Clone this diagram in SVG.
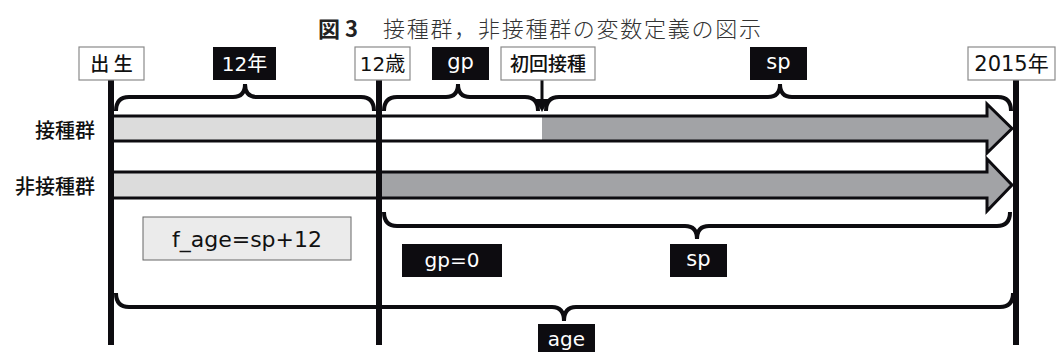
<svg xmlns="http://www.w3.org/2000/svg" width="1056" height="352" viewBox="0 0 1056 352">
<style>
.wbox{fill:#fff;stroke:#8a8a8a;stroke-width:1.2}
.bbox{fill:#0d0c10}
.lbl{font-family:"DejaVu Sans","Noto Sans CJK JP",sans-serif;font-size:20px;text-anchor:middle}
.jp{font-family:"Noto Sans CJK JP",sans-serif;font-weight:500;font-size:19px;text-anchor:middle;fill:#111}
.wt{fill:#fff}
.dk{fill:#111}
.brace{fill:none;stroke:#0d0c10;stroke-width:4;stroke-linecap:butt}
.vline{stroke:#0d0c10;stroke-width:6}
.bar{fill:none;stroke:#0d0c10;stroke-width:3;stroke-linejoin:miter}
.row{font-family:"Noto Sans CJK JP",sans-serif;font-weight:500;font-size:20px;text-anchor:end;fill:#111}
</style>
<rect width="1056" height="352" fill="#fff"/>
<g id="title">
<text x="318" y="37" font-family="Noto Sans CJK JP,sans-serif" font-weight="700" font-size="22" fill="#222">図 3</text>
<text x="383" y="37" font-family="Noto Sans CJK JP,serif" font-weight="300" font-size="22" fill="#333" textLength="378" lengthAdjust="spacing">接種群，非接種群の変数定義の図示</text>
</g>
<g id="bars">
<path d="M111,116 L987,116 L987,104 L1012,128.5 L987,153 L987,141 L111,141 Z" fill="#a2a3a6"/>
<rect x="111" y="116" width="268" height="25" fill="#dcdcdc"/>
<rect x="379" y="116" width="163" height="25" fill="#fff"/>
<path class="bar" d="M111,116 L987,116 L987,104 L1012,128.5 L987,153 L987,141 L111,141"/>
<path d="M111,172 L987,172 L987,159 L1012,185 L987,211 L987,198 L111,198 Z" fill="#a2a3a6"/>
<rect x="111" y="172" width="268" height="26" fill="#dcdcdc"/>
<path class="bar" d="M111,172 L987,172 L987,159 L1012,185 L987,211 L987,198 L111,198"/>
</g>
<g id="row-labels">
<text class="row" x="95" y="138">接種群</text>
<text class="row" x="95" y="194">非接種群</text>
</g>
<g id="connectors">
<line class="vline" x1="111" y1="79" x2="111" y2="345"/>
<line class="vline" x1="379" y1="79" x2="379" y2="345"/>
<line class="vline" x1="1016" y1="79" x2="1016" y2="345"/>
<path class="brace" d="M116,111 Q116,97 129,97 H233 Q245,97 245,84 Q245,97 257,97 H361 Q374,97 374,111"/>
<path class="brace" d="M384,111 Q384,97 397,97 H446 Q458,97 458,84 Q458,97 470,97 H525 Q538,97 538,111"/>
<path class="brace" d="M546,111 Q546,97 559,97 H768 Q780,97 780,84 Q780,97 792,97 H998 Q1011,97 1011,111"/>
<path class="brace" d="M384,212 Q384,226 397,226 H685 Q697,226 697,239 Q697,226 709,226 H997 Q1010,226 1010,212"/>
<path class="brace" d="M116,293 Q116,307 129,307 H552 Q564,307 564,321 Q564,307 576,307 H1000 Q1013,307 1013,293"/>
<line x1="542" y1="80" x2="542" y2="102" stroke="#0d0c10" stroke-width="3"/>
<path d="M535,99 L549,99 L542,112 Z" fill="#0d0c10"/>
</g>
<g id="n-birth"><rect class="wbox" x="79" y="47" width="65" height="33"/><text class="jp" x="111.5" y="70.5">出 生</text></g>
<g id="n-12y"><rect class="bbox" x="213" y="47" width="63" height="33"/><text class="lbl wt" x="244.5" y="71">12年</text></g>
<g id="n-12age"><rect class="wbox" x="355" y="47" width="55" height="33"/><text class="lbl dk" x="382.5" y="71">12歳</text></g>
<g id="n-gp"><rect class="bbox" x="432" y="47" width="57" height="33"/><text class="lbl wt" x="460.5" y="69" style="font-size:21px">gp</text></g>
<g id="n-first"><rect class="wbox" x="501" y="47" width="94" height="33"/><text class="jp" x="548" y="70.5">初回接種</text></g>
<g id="n-sp-top"><rect class="bbox" x="750" y="47" width="57" height="33"/><text class="lbl wt" x="778.5" y="69" style="font-size:21px">sp</text></g>
<g id="n-2015"><rect class="wbox" x="968" y="47" width="87" height="33"/><text class="lbl dk" x="1011.5" y="71" style="font-size:21px">2015年</text></g>
<g id="n-fage"><rect x="143" y="217" width="208" height="43" fill="#ebebeb" stroke="#666" stroke-width="1"/><text class="lbl dk" x="247" y="247" style="font-size:22px">f_age=sp+12</text></g>
<g id="n-gp0"><rect class="bbox" x="402" y="244" width="100" height="33"/><text class="lbl wt" x="452" y="267">gp=0</text></g>
<g id="n-sp-bot"><rect class="bbox" x="670" y="244" width="57" height="33"/><text class="lbl wt" x="698.5" y="266" style="font-size:21px">sp</text></g>
<g id="n-age"><rect class="bbox" x="538" y="324" width="57" height="32"/><text class="lbl wt" x="566.5" y="346">age</text></g>
</svg>
